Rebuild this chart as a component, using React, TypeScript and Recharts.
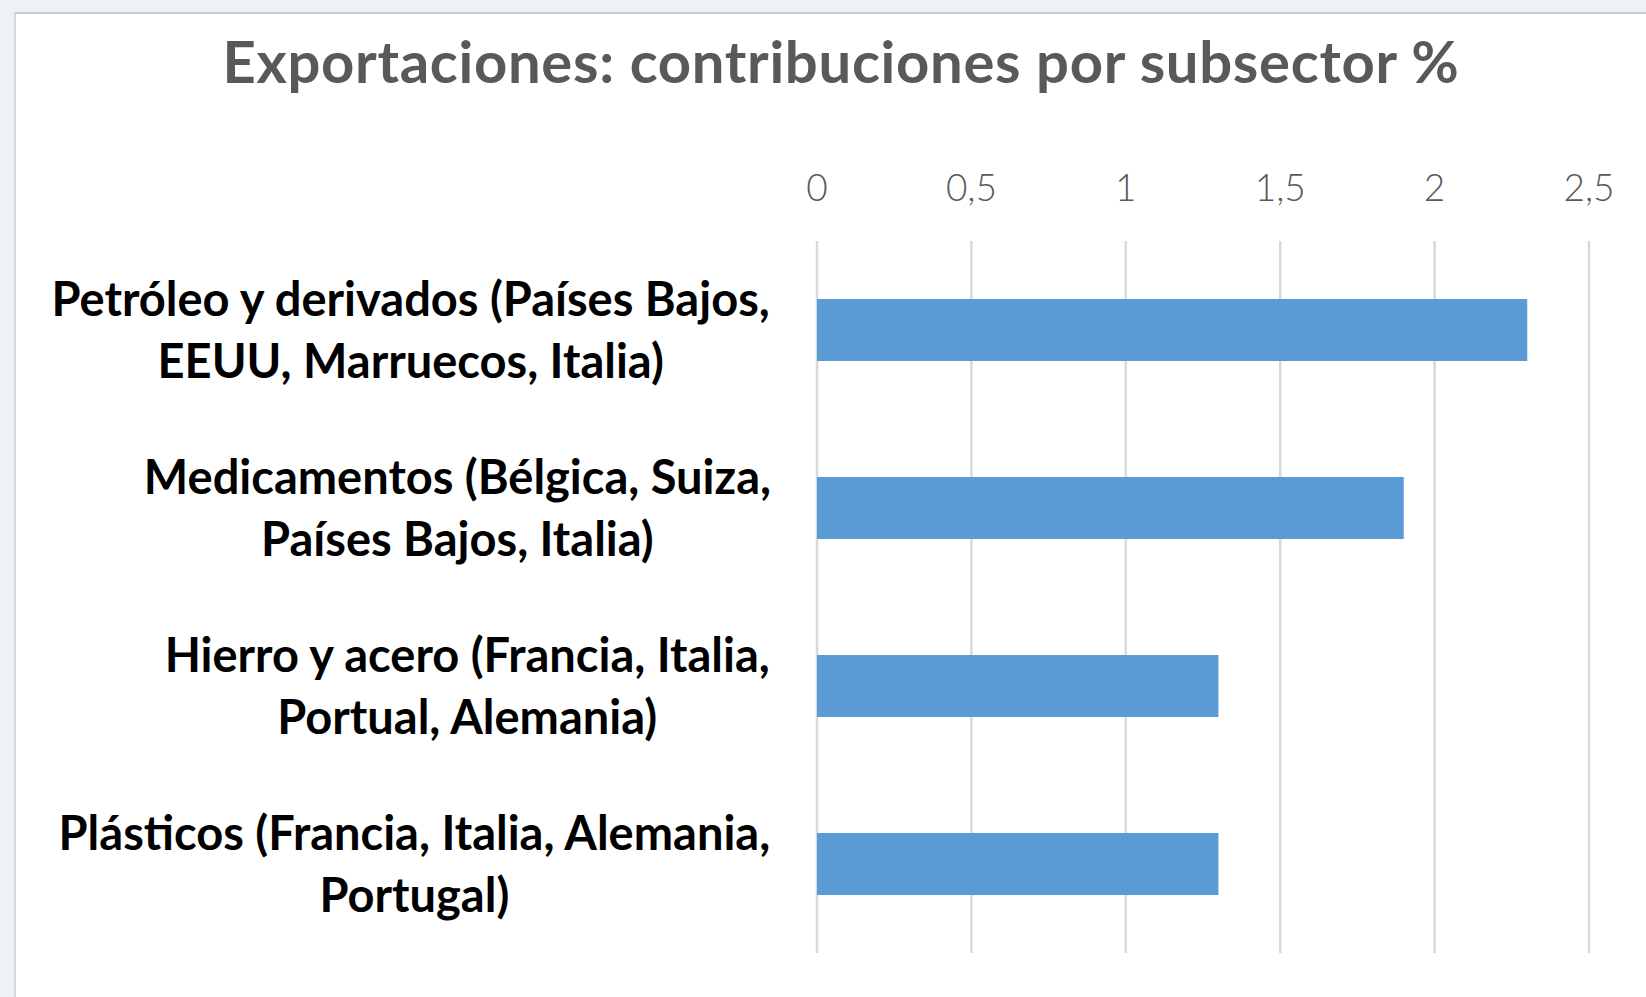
import React from 'react';
import { BarChart, Bar, XAxis, YAxis, CartesianGrid } from 'recharts';

const categories = [
    'Petróleo y derivados (Países Bajos,\nEEUU, Marruecos, Italia)',
    'Medicamentos (Bélgica, Suiza,\nPaíses Bajos, Italia)',
    'Hierro y acero (Francia, Italia,\nPortual, Alemania)',
    'Plásticos (Francia, Italia, Alemania,\nPortugal)',
];
const contributions = [2.3, 1.9, 1.3, 1.3];
const xTicks = [0, 0.5, 1, 1.5, 2, 2.5];

const data = categories.map((name, i) => ({ name, value: contributions[i] }));

const LABEL_SIZE = 47;
const LABEL_FONT = `bold ${LABEL_SIZE}px Lato`;
let ctx: CanvasRenderingContext2D | null = null;
const measure = (s: string) => {
    if (!ctx) ctx = document.createElement('canvas').getContext('2d');
    if (!ctx) return s.length * 22;
    ctx.font = LABEL_FONT;
    return ctx.measureText(s).width;
};

const fmt = (v: number) => String(v).replace('.', ',');

const ValueTick = ({ x, y, payload }: any) => (
    <text x={x} y={y - 40} textAnchor="middle" fill="#595959" fontFamily="Lato" fontSize={37} fontWeight={300}>
        {fmt(payload.value)}
    </text>
);

const CategoryTick = ({ x, y, payload }: any) => {
    const lines = String(payload.value).split('\n');
    const w = Math.max(...lines.map(measure));
    const cx = x - 46 - w / 2;
    const lineGap = 62;
    const first = -((lines.length - 1) * lineGap) / 2 + 17;
    return (
        <text textAnchor="middle" fill="#000000" fontFamily="Lato" fontSize={LABEL_SIZE} fontWeight="bold">
            {lines.map((l, i) => (
                <tspan key={i} x={cx} y={y + first + i * lineGap}>{l}</tspan>
            ))}
        </text>
    );
};

const App: React.FC = () => {
    return (
        <div style={{ position: 'absolute', left: 0, top: 0, width: 1646, height: 997, background: '#eef2f6', overflow: 'hidden' }}>
            <div style={{ position: 'absolute', left: 14, top: 12, width: 1660, height: 1000, background: '#ffffff', borderTop: '2px solid #cccccc', borderLeft: '2px solid #d6d6d6' }}>
                <div style={{ position: 'absolute', left: 125, top: 18, width: 1400, textAlign: 'center', fontFamily: 'Lato', fontWeight: 'bold', fontSize: 58, letterSpacing: 0.7, lineHeight: 1, color: '#595959', whiteSpace: 'nowrap' }}>
                    Exportaciones: contribuciones por subsector %
                </div>
                <BarChart width={1630} height={983} data={data} layout="vertical" margin={{ top: 0, right: 57, bottom: 44, left: 0 }}>
                    <CartesianGrid horizontal={false} stroke="#d9d9d9" strokeWidth={2.5} />
                    <XAxis type="number" orientation="top" domain={[0, 2.5]} ticks={xTicks} axisLine={false} tickLine={false}
                        tickSize={0} tickMargin={0} height={227} tick={<ValueTick />} interval={0} />
                    <YAxis type="category" dataKey="name" width={801} axisLine={false} tickLine={false}
                        tickSize={0} tickMargin={0} tick={<CategoryTick />} interval={0} />
                    <Bar dataKey="value" fill="#5b9bd5" barSize={62} isAnimationActive={false} />
                </BarChart>
            </div>
        </div>
    );
};

export default App;
